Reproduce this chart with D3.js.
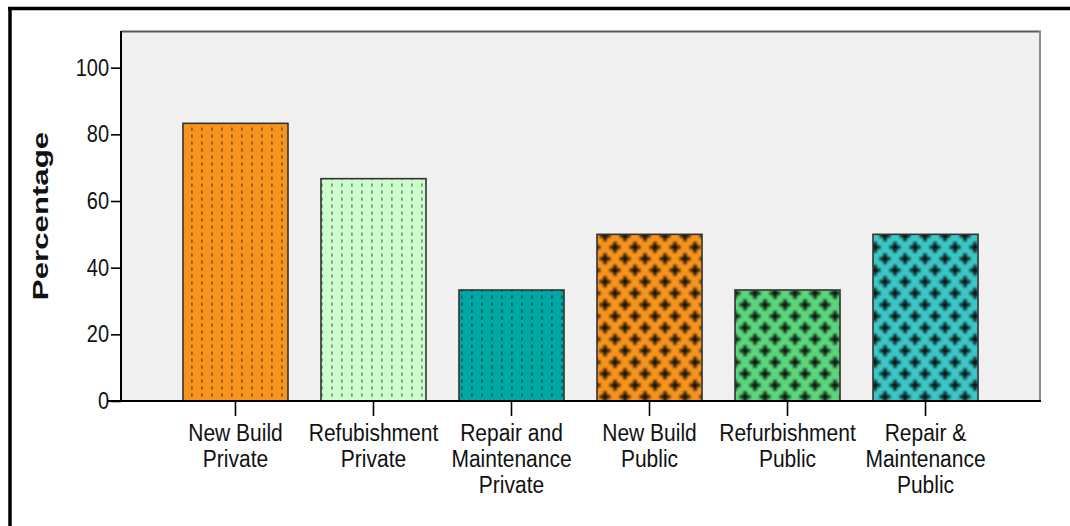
<!DOCTYPE html>
<html><head><meta charset="utf-8">
<script src="https://cdn.jsdelivr.net/npm/d3@7"></script>
<style>
html,body{margin:0;padding:0;background:#fff;}
svg{display:block;font-family:"Liberation Sans",Arial,sans-serif;}
</style>
</head><body>
<svg id="chart" width="1070" height="526"></svg>
<script>
// Category labels (lines separated by "|"), values and styling per bar
const categories = ["New Build|Private", "Refubishment|Private", "Repair and|Maintenance|Private",
                    "New Build|Public", "Refurbishment|Public", "Repair &|Maintenance|Public"];
const percentages = [83.3, 66.7, 33.3, 50, 33.3, 50];
const barColors = ["#f7941d", "#ccffcc", "#00a8a3", "#f7941d", "#5cd67c", "#3cc6c6"];
const barPatterns = ["dash", "dash", "dash", "cross", "cross", "cross"];
const yTicks = [0, 20, 40, 60, 80, 100];
const yLabel = "Percentage";

const svg = d3.select("#chart");
const plot = {left: 121, right: 1040, top: 31, bottom: 401};
const textStretch = 1.15;

const x = d3.scaleBand().domain(categories)
  .range([plot.left, plot.right]).paddingInner(0.239).paddingOuter(0.449);
const y = d3.scaleLinear().domain([0, 111]).range([plot.bottom, plot.top]);

// Fill patterns: dashed vertical lines or staggered crosses over a base colour
const defs = svg.append("defs");
const soft = defs.append("filter").attr("id", "soft")
  .attr("x", "-20%").attr("y", "-20%").attr("width", "140%").attr("height", "140%");
soft.append("feGaussianBlur").attr("stdDeviation", 0.8);

barColors.forEach((c, i) => {
  if (barPatterns[i] === "dash") {
    const p = defs.append("pattern").attr("id", "pat" + i)
      .attr("patternUnits", "userSpaceOnUse").attr("width", 10).attr("height", 7);
    p.append("rect").attr("width", 10).attr("height", 7).attr("fill", c);
    p.append("rect").attr("x", 1.2).attr("y", 1.5).attr("width", 1.4).attr("height", 3.2)
      .attr("fill", "rgba(0,0,0,0.5)");
  } else {
    const p = defs.append("pattern").attr("id", "pat" + i)
      .attr("patternUnits", "userSpaceOnUse").attr("width", 20).attr("height", 23);
    p.append("rect").attr("width", 20).attr("height", 23).attr("fill", c);
    const g = p.append("g").attr("filter", "url(#soft)");
    [[5, 5.75], [15, 17.25], [-5, 17.25], [25, 5.75], [5, 28.75], [15, -5.75]].forEach(([cx, cy]) => {
      g.append("rect").attr("x", cx - 5.5).attr("y", cy - 1.9).attr("width", 11).attr("height", 3.8)
        .attr("fill", "rgba(0,0,0,0.72)");
      g.append("rect").attr("x", cx - 1.9).attr("y", cy - 5.5).attr("width", 3.8).attr("height", 11)
        .attr("fill", "rgba(0,0,0,0.72)");
    });
  }
});

// Outer frame (top and left edges)
svg.append("line").attr("x1", 8).attr("x2", 1070).attr("y1", 8.5).attr("y2", 8.5)
  .attr("stroke", "#000").attr("stroke-width", 3.5);
svg.append("line").attr("x1", 10).attr("x2", 10).attr("y1", 7).attr("y2", 526)
  .attr("stroke", "#000").attr("stroke-width", 3.5);

// Plot background and borders
svg.append("rect").attr("x", plot.left).attr("y", plot.top)
  .attr("width", plot.right - plot.left).attr("height", plot.bottom - plot.top)
  .attr("fill", "#f0f0f0");
svg.append("line").attr("x1", plot.left).attr("x2", plot.right + 1)
  .attr("y1", plot.top + 0.5).attr("y2", plot.top + 0.5)
  .attr("stroke", "#5a5a5a").attr("stroke-width", 2);
svg.append("line").attr("x1", plot.right).attr("x2", plot.right)
  .attr("y1", plot.top).attr("y2", plot.bottom)
  .attr("stroke", "#8a8a8a").attr("stroke-width", 2);

// Bars
svg.append("g").selectAll("rect").data(categories).join("rect")
  .attr("x", d => x(d))
  .attr("y", (d, i) => y(percentages[i]))
  .attr("width", x.bandwidth())
  .attr("height", (d, i) => y(0) - y(percentages[i]))
  .attr("fill", (d, i) => `url(#pat${i})`)
  .attr("stroke", "#333").attr("stroke-width", 1.6);

// Y axis
const gy = svg.append("g").attr("transform", `translate(${plot.left},0)`)
  .call(d3.axisLeft(y).tickValues(yTicks).tickSize(10).tickPadding(2));
gy.select(".domain").remove();
gy.selectAll(".tick line").attr("stroke", "#000").attr("stroke-width", 1.6);
gy.selectAll(".tick text").attr("font-size", 20).attr("fill", "#111")
  .attr("font-family", "Liberation Sans, Arial, sans-serif")
  .attr("transform", `scale(1,${textStretch})`);
svg.append("line").attr("x1", plot.left).attr("x2", plot.left)
  .attr("y1", plot.top).attr("y2", plot.bottom + 1)
  .attr("stroke", "#000").attr("stroke-width", 2);

// X axis
const gx = svg.append("g").attr("transform", `translate(0,${plot.bottom})`)
  .call(d3.axisBottom(x).tickSize(15).tickFormat(""));
gx.select(".domain").remove();
gx.selectAll(".tick line").attr("stroke", "#000").attr("stroke-width", 1.6);
svg.append("line").attr("x1", plot.left - 14).attr("x2", plot.right + 1)
  .attr("y1", plot.bottom).attr("y2", plot.bottom)
  .attr("stroke", "#000").attr("stroke-width", 2);

const labels = svg.append("g").selectAll("g").data(categories).join("g")
  .attr("transform", d => `translate(${x(d) + x.bandwidth() / 2},433) scale(1,${textStretch})`);
labels.each(function (d) {
  const g = d3.select(this);
  d.split("|").forEach((line, k) => {
    g.append("text").attr("x", 0).attr("y", k * 26 / textStretch).attr("dy", "0.35em")
      .attr("text-anchor", "middle").attr("font-size", 21).attr("fill", "#111").text(line);
  });
});

// Y axis title
svg.append("text")
  .attr("transform", "translate(40,216) rotate(-90) scale(1.42,1)")
  .attr("text-anchor", "middle").attr("dy", "0.35em")
  .attr("font-size", 22).attr("font-weight", "bold").attr("fill", "#111")
  .text(yLabel);
</script>
</body></html>
